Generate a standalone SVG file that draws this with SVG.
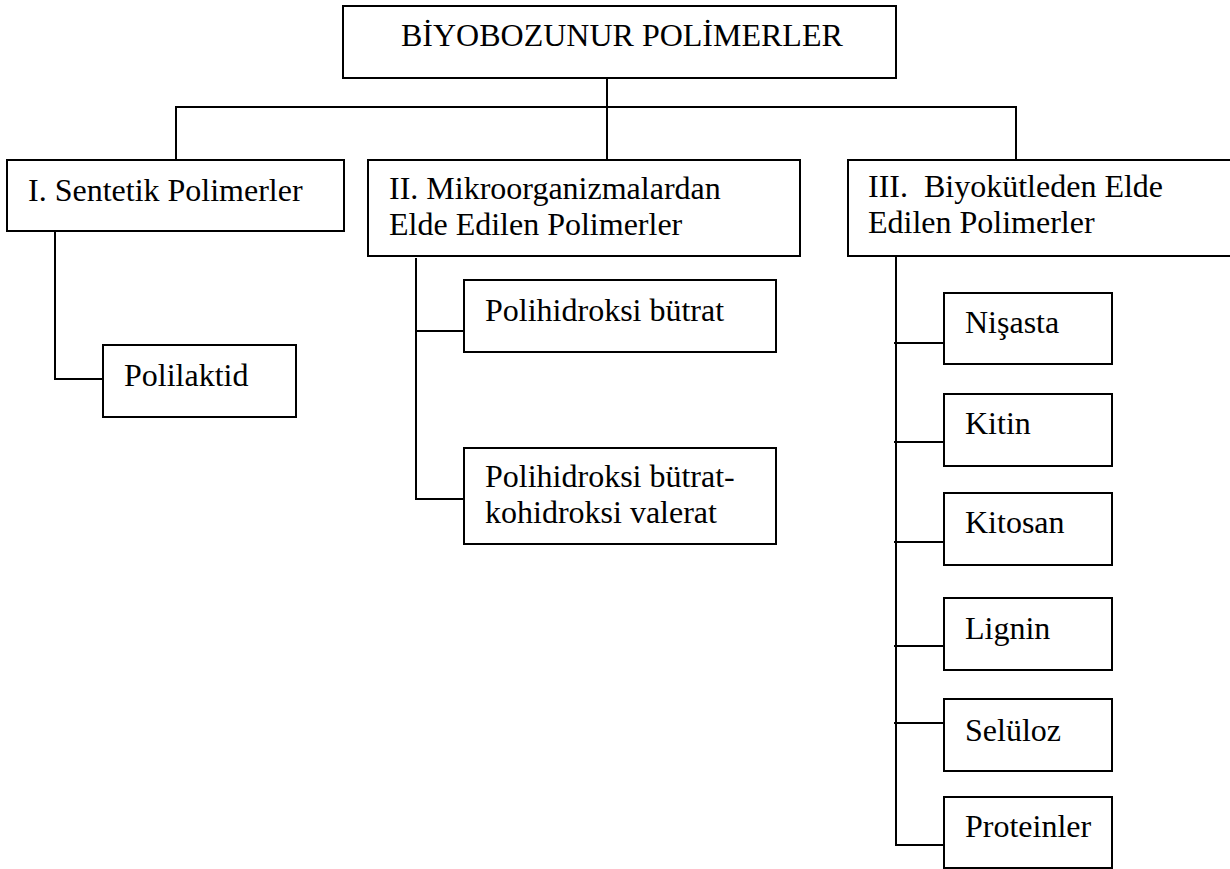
<svg xmlns="http://www.w3.org/2000/svg" width="1230" height="869" viewBox="0 0 1230 869">
<style>
.box{fill:#fff;stroke:#000;stroke-width:2}
.lbl{font-family:"Liberation Serif","Times New Roman",serif;font-size:32px;fill:#000}
.conn{fill:none;stroke:#000;stroke-width:2}
</style>
<rect width="1230" height="869" fill="#fff"/>
<g id="connectors">
<path class="conn" d="M607,78 V160"/>
<path class="conn" d="M176,160 V107 H1016 V160"/>
<path class="conn" d="M55,232 V379 H103"/>
<path class="conn" d="M416,258 V499 H464"/>
<path class="conn" d="M416,331 H464"/>
<path class="conn" d="M896,256 V845 H944"/>
<path class="conn" d="M894,343 H944"/>
<path class="conn" d="M894,442 H944"/>
<path class="conn" d="M894,542 H944"/>
<path class="conn" d="M894,646 H944"/>
<path class="conn" d="M894,723 H944"/>
</g>
<g id="root">
<rect class="box" x="343" y="6" width="553" height="72"/>
<text class="lbl" x="401" y="46">BİYOBOZUNUR POLİMERLER</text>
</g>
<g id="n1">
<rect class="box" x="7" y="160" width="337" height="71"/>
<text class="lbl" x="28" y="201">I. Sentetik Polimerler</text>
</g>
<g id="n2">
<rect class="box" x="368" y="160" width="432" height="96"/>
<text class="lbl" x="389" y="199">II. Mikroorganizmalardan</text>
<text class="lbl" x="389" y="235">Elde Edilen Polimerler</text>
</g>
<g id="n3">
<rect class="box" x="848" y="160" width="390" height="96"/>
<text class="lbl" x="868" y="197" xml:space="preserve">III.  Biyokütleden Elde</text>
<text class="lbl" x="868" y="233">Edilen Polimerler</text>
</g>
<g id="n1a">
<rect class="box" x="103" y="345" width="193" height="72"/>
<text class="lbl" x="124" y="386">Polilaktid</text>
</g>
<g id="n2a">
<rect class="box" x="464" y="280" width="312" height="72"/>
<text class="lbl" x="485" y="321">Polihidroksi bütrat</text>
</g>
<g id="n2b">
<rect class="box" x="464" y="448" width="312" height="96"/>
<text class="lbl" x="485" y="487">Polihidroksi bütrat-</text>
<text class="lbl" x="485" y="523">kohidroksi valerat</text>
</g>
<g id="n3a">
<rect class="box" x="944" y="293" width="168" height="71"/>
<text class="lbl" x="965" y="333">Nişasta</text>
</g>
<g id="n3b">
<rect class="box" x="944" y="394" width="168" height="72"/>
<text class="lbl" x="965" y="434">Kitin</text>
</g>
<g id="n3c">
<rect class="box" x="944" y="493" width="168" height="72"/>
<text class="lbl" x="965" y="533">Kitosan</text>
</g>
<g id="n3d">
<rect class="box" x="944" y="598" width="168" height="72"/>
<text class="lbl" x="965" y="639">Lignin</text>
</g>
<g id="n3e">
<rect class="box" x="944" y="699" width="168" height="72"/>
<text class="lbl" x="965" y="741">Selüloz</text>
</g>
<g id="n3f">
<rect class="box" x="944" y="797" width="168" height="71"/>
<text class="lbl" x="965" y="837">Proteinler</text>
</g>
</svg>
